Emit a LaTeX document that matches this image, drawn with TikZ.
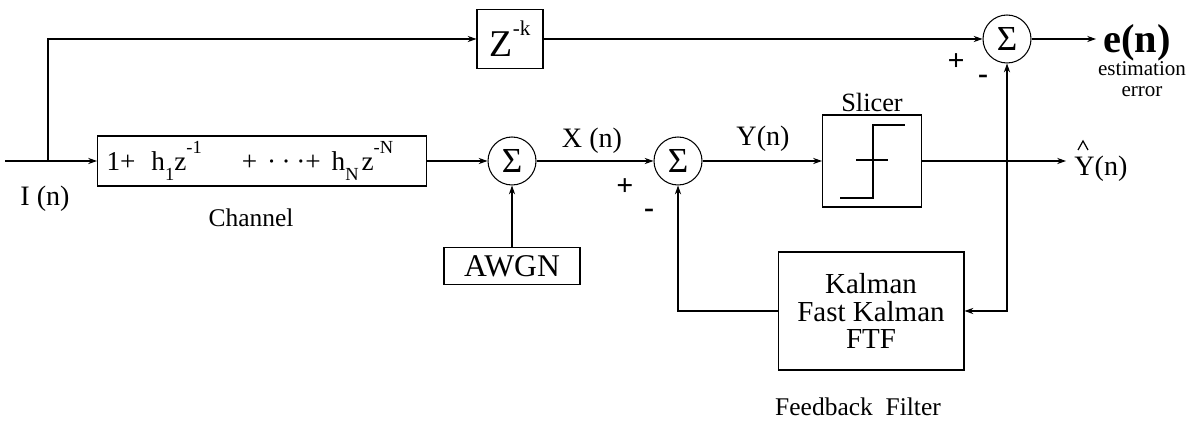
\documentclass[tikz,border=0pt]{standalone}
\usepackage{fontspec}
\setmainfont{Liberation Serif}
\usetikzlibrary{arrows.meta,positioning}

\begin{document}
\begin{tikzpicture}[
    x=0.02cm, y=-0.02cm,
    every node/.style={font=\fontsize{16}{17}\selectfont, inner sep=0pt},
    block/.style={rectangle, draw, line width=0.6pt, align=center},
    sumnode/.style={circle, draw, line width=0.6pt, minimum size=0.96cm, font=\fontsize{20}{20}\selectfont},
    arrow/.style={-{Stealth[length=5pt,width=3.5pt]}, line width=0.6pt},
    sign/.style={font=\fontsize{17}{17}\selectfont\bfseries}
  ]
    \useasboundingbox (0,0) rectangle (1196,421);

    % blocks
    \node[block, minimum width=6.58cm, minimum height=1.0cm, text width=6.22cm, align=left, font=\fontsize{15.5}{16}\selectfont] (chan) at (262,161) {1+\hspace{0.32cm}h\raisebox{-0.38em}{\fontsize{10.5}{10.5}\selectfont 1}z\raisebox{0.6em}{\fontsize{10.5}{10.5}\selectfont -1}\hspace{0.8cm}+\hspace{0.2cm}·\hspace{0.11cm}·\hspace{0.11cm}·+\hspace{0.22cm}h\raisebox{-0.38em}{\fontsize{10.5}{10.5}\selectfont N}\hspace{0.06cm}z\raisebox{0.6em}{\fontsize{10.5}{10.5}\selectfont -N}};
    \node[block, minimum width=1.32cm, minimum height=1.18cm, font=\fontsize{21.5}{22}\selectfont] (zk) at (510,39) {Z\raisebox{0.55em}{\fontsize{12}{12}\selectfont -k}};
    \node[block, minimum width=2.72cm, minimum height=0.74cm, font=\fontsize{18}{18}\selectfont] (awgn) at (512,266) {AWGN};
    \node[block, minimum width=1.98cm, minimum height=1.84cm] (slicer) at (872,161) {};
    \node[block, minimum width=3.72cm, minimum height=2.36cm, font=\fontsize{16.5}{15.65}\selectfont] (fb) at (871,311) {Kalman\\Fast Kalman\\FTF};

    % adders
    \node[sumnode] (sum1) at (512,161) {Σ};
    \node[sumnode] (sum2) at (678,161) {Σ};
    \node[sumnode] (sum3) at (1007,39) {Σ};

    % slicer curve
    \draw[line width=1pt] ([shift={(-32,37)}]slicer.center) -- ++(33,0) -- ++(0,-73) -- ++(32,0);
    \draw[line width=1pt] ([shift={(-16,-1)}]slicer.center) -- ++(32,0);

    % end points
    \coordinate (in) at (5,161);
    \coordinate (br) at (48,161);
    \coordinate (tap) at (sum3 |- slicer);
    \coordinate (yend) at (1066,161);
    \coordinate (eend) at (1096,39);

    % connectors
    \draw[arrow] (in) -- (chan.west);
    \draw[arrow] (br) |- (zk.west);
    \draw[arrow] (zk.east) -- (sum3.west);
    \draw[arrow] (chan.east) -- (sum1.west);
    \draw[arrow] (awgn.north) -- (sum1.south);
    \draw[arrow] (sum1.east) -- (sum2.west);
    \draw[arrow] (sum2.east) -- (slicer.west);
    \draw[arrow] (slicer.east) -- (yend);
    \draw[arrow] (sum3.east) -- (eend);
    \draw[arrow] (tap) -- (sum3.south);
    \draw[arrow] (tap) |- (fb.east);
    \draw[arrow] (fb.west) -| (sum2.south);

    % labels
    \node (lblI) at (45,199) {I (n)};
    \node (lblX) at (592,141) {X (n)};
    \node (lblY) at (763,139) {Y(n)};
    \node[anchor=west] (lblYhat) at (1074,169) {Y(n)};
    \draw[line width=0.7pt] (1078,150) -- (1083,141) -- (1088,150); % hat
    \node[font=\fontsize{14.5}{16}\selectfont] (lblchan) at (251,218) {Channel};
    \node[font=\fontsize{15}{16}\selectfont] (lblslicer) at (872,102) {Slicer};
    \node[font=\fontsize{14.5}{16}\selectfont] (lblfb) at (858,407) {Feedback\ \ Filter};
    \node[font=\fontsize{23}{24}\selectfont\bfseries] (lble) at (1137,43) {e(n)};
    \node[font=\fontsize{12}{12}\selectfont, align=center] (lblerr) at (1142,79) {estimation\\error};
    \node[sign] (p2) at (625,187) {+};
    \node[sign] (m2) at (649,213) {-};
    \node[sign] (p3) at (956,62) {+};
    \node[sign] (m3) at (983,79) {-};
\end{tikzpicture}
\end{document}
